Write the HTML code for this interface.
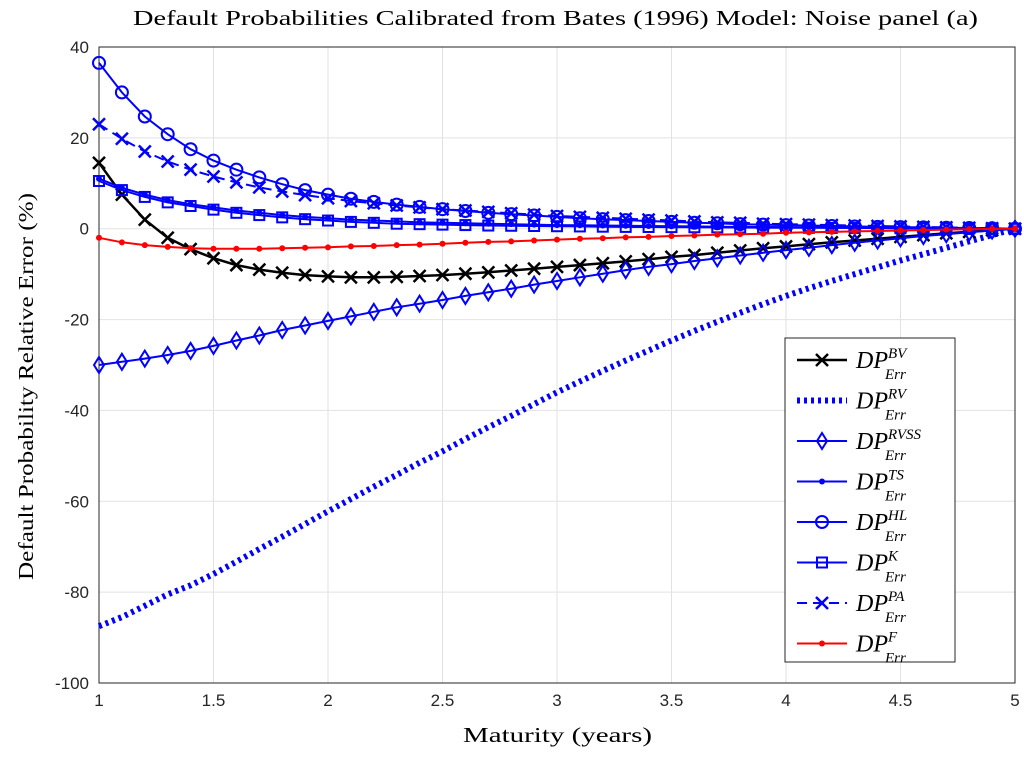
<!DOCTYPE html>
<html><head><meta charset="utf-8"><style>
body{margin:0;background:#fff;}
svg text{font-family:"Liberation Sans",sans-serif;}
.serif{font-family:"Liberation Serif",serif;}
</style></head><body>
<svg id="chart" width="1024" height="757" xmlns="http://www.w3.org/2000/svg">
<rect width="1024" height="757" fill="#fff"/>
<g id="grid"></g><g id="axes"></g><g id="series"></g><g id="legend"></g>
</svg>
<script>
const xs=[1,1.1,1.2,1.3,1.4,1.5,1.6,1.7,1.8,1.9,2,2.1,2.2,2.3,2.4,2.5,2.6,2.7,2.8,2.9,3,3.1,3.2,3.3,3.4,3.5,3.6,3.7,3.8,3.9,4,4.1,4.2,4.3,4.4,4.5,4.6,4.7,4.8,4.9,5];
const bv=[14.5,7.5,2,-2,-4.5,-6.5,-8,-9,-9.7,-10.2,-10.5,-10.7,-10.7,-10.6,-10.4,-10.2,-9.9,-9.6,-9.2,-8.8,-8.4,-8,-7.6,-7.2,-6.7,-6.2,-5.8,-5.3,-4.8,-4.3,-3.9,-3.4,-3,-2.6,-2.2,-1.8,-1.4,-1,-0.7,-0.3,0];
const rv=[-87.5,-85.5,-83,-80.5,-78.5,-76,-73.3,-70.5,-67.8,-65,-62.2,-59.5,-56.8,-54.2,-51.5,-49,-46.3,-43.7,-41.2,-38.6,-36,-33.6,-31.3,-29,-26.8,-24.6,-22.5,-20.5,-18.5,-16.6,-14.8,-13.1,-11.5,-10,-8.5,-7,-5.6,-4.2,-2.8,-1.4,0];
const rvss=[-30,-29.3,-28.6,-27.8,-26.9,-25.8,-24.6,-23.5,-22.3,-21.3,-20.3,-19.3,-18.3,-17.3,-16.5,-15.7,-14.8,-14,-13.2,-12.3,-11.5,-10.7,-9.9,-9.1,-8.4,-7.8,-7.1,-6.5,-5.9,-5.3,-4.7,-4.2,-3.6,-3.1,-2.6,-2.1,-1.6,-1.2,-0.8,-0.4,0];
const ts=[11,9,7.5,6.3,5.4,4.7,4,3.5,3,2.6,2.3,2,1.8,1.6,1.4,1.3,1.2,1.1,1,0.9,0.8,0.75,0.7,0.65,0.6,0.55,0.5,0.45,0.4,0.38,0.35,0.3,0.28,0.25,0.2,0.18,0.15,0.1,0.08,0.05,0];
const kk=[10.5,8.5,7,5.8,5,4.2,3.5,3,2.5,2.1,1.8,1.5,1.3,1.1,1,0.9,0.8,0.7,0.65,0.6,0.55,0.5,0.45,0.4,0.38,0.35,0.32,0.3,0.27,0.25,0.22,0.2,0.18,0.15,0.13,0.1,0.08,0.06,0.04,0.02,0];
const hl=[36.5,30,24.7,20.8,17.5,15,13,11.3,9.8,8.5,7.5,6.6,5.9,5.3,4.8,4.3,3.9,3.5,3.2,2.9,2.6,2.3,2.1,1.9,1.7,1.5,1.3,1.2,1,0.9,0.8,0.7,0.6,0.5,0.4,0.35,0.3,0.2,0.15,0.1,0];
const pa=[23,19.8,17,14.8,13,11.5,10.2,9.1,8.2,7.4,6.7,6.1,5.6,5.1,4.7,4.3,4,3.7,3.4,3.1,2.8,2.6,2.4,2.2,2,1.8,1.6,1.4,1.3,1.1,1,0.9,0.8,0.7,0.6,0.5,0.4,0.3,0.2,0.1,0];
const ff=[-2,-3,-3.6,-4,-4.3,-4.4,-4.4,-4.4,-4.3,-4.2,-4.1,-3.9,-3.8,-3.6,-3.5,-3.3,-3.1,-2.9,-2.8,-2.6,-2.4,-2.2,-2.1,-1.9,-1.8,-1.6,-1.5,-1.3,-1.2,-1.1,-0.9,-0.8,-0.7,-0.6,-0.5,-0.4,-0.3,-0.2,-0.1,-0.05,0];
const xTicks=[1,1.5,2,2.5,3,3.5,4,4.5,5];
const yTicks=[40,20,0,-20,-40,-60,-80,-100];
const X0=99,X1=1015,Y0=47,Y1=683;
const sx=v=>X0+(v-1)/4*(X1-X0);
const sy=v=>Y0+(40-v)/140*(Y1-Y0);
const NS="http://www.w3.org/2000/svg";
function mk(tag,parent,attrs){const e=document.createElementNS(NS,tag);for(const k in attrs)e.setAttribute(k,attrs[k]);parent.appendChild(e);return e;}
const grid=document.getElementById('grid'),axes=document.getElementById('axes'),ser=document.getElementById('series'),leg=document.getElementById('legend');
mk('rect',grid,{x:X0,y:Y0,width:X1-X0,height:Y1-Y0,fill:'#fff'});
xTicks.forEach(t=>{const l=mk('line',grid,{x1:sx(t),x2:sx(t),y1:Y0,y2:Y1,stroke:'#e2e2e2','stroke-width':1});

const tx=mk('text',axes,{x:sx(t),y:Y1+23,'text-anchor':'middle','font-size':17,fill:'#262626'});tx.textContent=t;
});
yTicks.forEach(t=>{const l=mk('line',grid,{x1:X0,x2:X1,y1:sy(t),y2:sy(t),stroke:'#e2e2e2','stroke-width':1});

const tx=mk('text',axes,{x:X0-10,y:sy(t)+6,'text-anchor':'end','font-size':17,fill:'#262626'});tx.textContent=t;
});
const frame=mk('rect',axes,{x:X0,y:Y0,width:X1-X0,height:Y1-Y0,fill:'none',stroke:'#262626','stroke-width':1});

const title=mk('text',axes,{x:133,y:25,'font-size':21,class:'serif',fill:'#000',textLength:845,lengthAdjust:'spacingAndGlyphs'});
title.textContent='Default Probabilities Calibrated from Bates (1996) Model: Noise panel (a)';

const xl=mk('text',axes,{x:463,y:742,'font-size':21,class:'serif',fill:'#000',textLength:189,lengthAdjust:'spacingAndGlyphs'});xl.textContent='Maturity (years)';

const yl=mk('text',axes,{x:0,y:0,'font-size':21,class:'serif',fill:'#000',textLength:387,lengthAdjust:'spacingAndGlyphs',transform:'translate(33,580) rotate(-90)'});yl.textContent='Default Probability Relative Error (%)';


function marker(g,m,x,y,c){
 if(m==='x'){mk('path',g,{d:`M${x-6},${y-6}L${x+6},${y+6}M${x-6},${y+6}L${x+6},${y-6}`,stroke:c,'stroke-width':2.5,fill:'none'});}
 else if(m==='d'){mk('path',g,{d:`M${x},${y-8}L${x+5},${y}L${x},${y+8}L${x-5},${y}Z`,stroke:c,'stroke-width':2,fill:'none'});}
 else if(m==='.'){mk('circle',g,{cx:x,cy:y,r:3,fill:c});}
 else if(m==='o'){mk('circle',g,{cx:x,cy:y,r:6,stroke:c,'stroke-width':2,fill:'none'});}
 else if(m==='s'){mk('rect',g,{x:x-5,y:y-5,width:10,height:10,stroke:c,'stroke-width':2,fill:'none'});}
}
const defs=[
 {name:'bv',data:bv,c:'#000',w:2.5,dash:'',m:'x',sup:'BV'},
 {name:'rv',data:rv,c:'#0000ff',w:6,dash:'3,4',m:'',sup:'RV'},
 {name:'rvss',data:rvss,c:'#0000ff',w:2,dash:'',m:'d',sup:'RVSS'},
 {name:'ts',data:ts,c:'#0000ff',w:2,dash:'',m:'.',sup:'TS'},
 {name:'hl',data:hl,c:'#0000ff',w:2,dash:'',m:'o',sup:'HL'},
 {name:'k',data:kk,c:'#0000ff',w:2,dash:'',m:'s',sup:'K'},
 {name:'pa',data:pa,c:'#0000ff',w:2,dash:'10,6',m:'x',sup:'PA'},
 {name:'f',data:ff,c:'#ff0000',w:2,dash:'',m:'.',sup:'F'}];
const order=['rv','bv','rvss','k','ts','pa','hl','f'];
order.forEach(n=>{const s=defs.find(d=>d.name===n);
 const g=mk('g',ser,{});
 const p=mk('path',g,{d:s.data.map((v,i)=>(i?'L':'M')+sx(xs[i]).toFixed(1)+','+sy(v).toFixed(1)).join(''),stroke:s.c,'stroke-width':s.w,fill:'none','stroke-dasharray':s.dash});
 
 if(s.m)s.data.forEach((v,i)=>marker(g,s.m,sx(xs[i]),sy(v),s.c));});
const lb=mk('rect',leg,{x:785,y:338,width:170,height:324,fill:'#fff',stroke:'#262626','stroke-width':1});

defs.forEach((s,i)=>{const y=360+i*40.5;const g=mk('g',leg,{});
 
 mk('line',g,{x1:797,x2:847,y1:y,y2:y,stroke:s.c,'stroke-width':s.w,'stroke-dasharray':s.dash});
 if(s.m)marker(g,s.m,822,y,s.c);
 const t=mk('text',g,{x:856,y:y+8,'font-size':24,'font-style':'italic',class:'serif'});
 t.innerHTML=`DP<tspan font-size="15" dy="-10">${s.sup}</tspan>`;
 const e=mk('text',g,{x:885,y:y+19,'font-size':15,'font-style':'italic',class:'serif'});e.textContent='Err';});
</script>
</body></html>
